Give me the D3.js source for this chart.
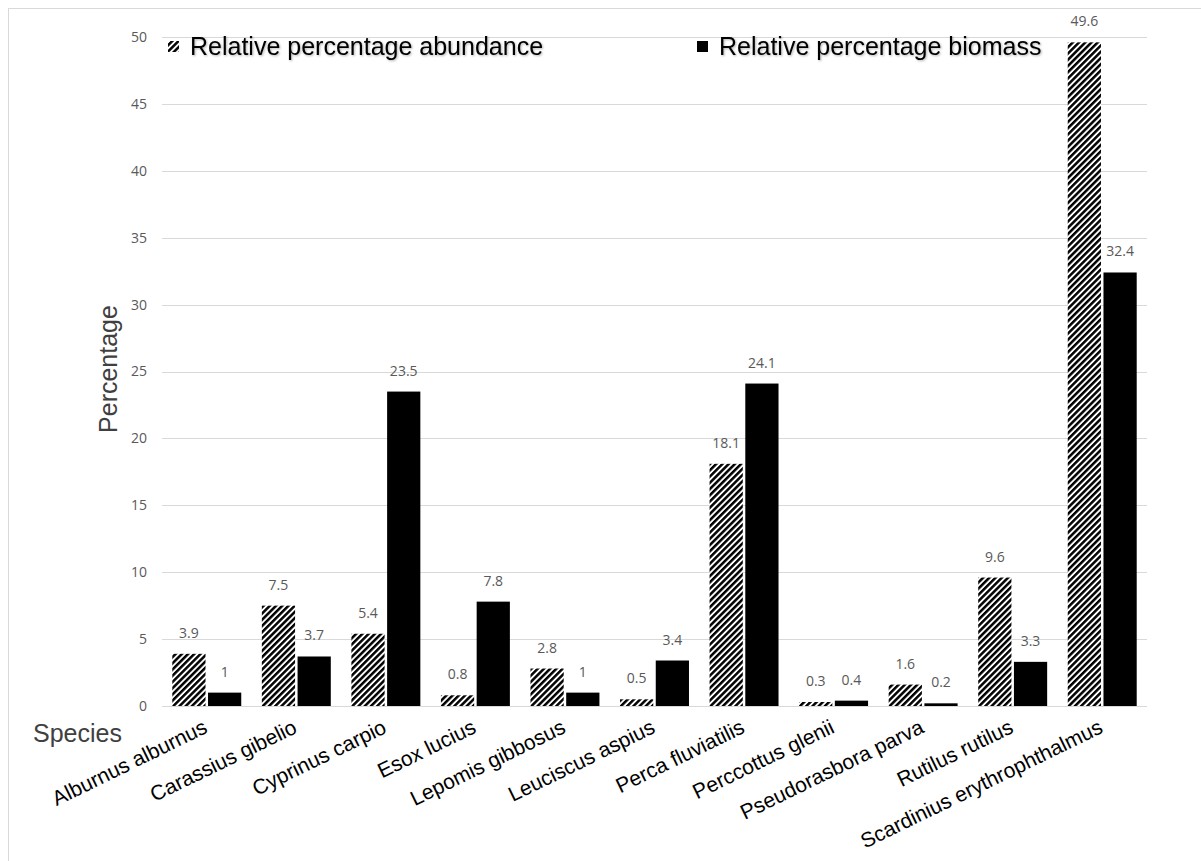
<!DOCTYPE html>
<html>
<head>
<meta charset="utf-8">
<script src="https://cdn.jsdelivr.net/npm/d3@7"></script>
<style>
  html, body { margin: 0; padding: 0; background: #fff; }
  svg { display: block; }
</style>
</head>
<body>
<svg id="chart" width="1201" height="861"></svg>
<script>
// Données
const species = ['Alburnus alburnus', 'Carassius gibelio', 'Cyprinus carpio', 'Esox lucius',
  'Lepomis gibbosus', 'Leuciscus aspius', 'Perca fluviatilis', 'Perccottus glenii',
  'Pseudorasbora parva', 'Rutilus rutilus', 'Scardinius erythrophthalmus'];
const seriesNames = ['Relative percentage abundance', 'Relative percentage biomass'];
const abundance = [3.9, 7.5, 5.4, 0.8, 2.8, 0.5, 18.1, 0.3, 1.6, 9.6, 49.6];
const biomass   = [1, 3.7, 23.5, 7.8, 1, 3.4, 24.1, 0.4, 0.2, 3.3, 32.4];
const yTicks = [0, 5, 10, 15, 20, 25, 30, 35, 40, 45, 50];

const rows = species.map((s, i) => ({ name: s, values: [abundance[i], biomass[i]] }));

const svg = d3.select('#chart');
const plot = { left: 162, right: 1147, top: 37, bottom: 706 };

// cadre du graphique
svg.append('rect')
  .attr('x', 8.5).attr('y', 8.5)
  .attr('width', 1400).attr('height', 1000)
  .attr('fill', 'none').attr('stroke', '#d9d9d9').attr('stroke-width', 1);

const defs = svg.append('defs');
const pat = defs.append('pattern')
  .attr('id', 'hatch')
  .attr('patternUnits', 'userSpaceOnUse')
  .attr('width', 4.4).attr('height', 4.4)
  .attr('patternTransform', 'rotate(45)');
pat.append('rect').attr('width', 4.4).attr('height', 4.4).attr('fill', '#fff');
pat.append('rect').attr('width', 2.5).attr('height', 4.4).attr('fill', '#000');

const shadow = defs.append('filter').attr('id', 'tshadow')
  .attr('x', '-5%').attr('y', '-20%').attr('width', '110%').attr('height', '150%');
shadow.append('feDropShadow')
  .attr('dx', 1).attr('dy', 1).attr('stdDeviation', 1.2)
  .attr('flood-color', '#000').attr('flood-opacity', 0.3);

const fills = ['url(#hatch)', '#000'];

const x0 = d3.scaleBand().domain(species).range([plot.left, plot.right]).padding(0);
const x1 = d3.scaleBand().domain([0, 1])
  .range([x0.bandwidth() * 0.115, x0.bandwidth() * 0.885])
  .paddingInner(0.07);
const y = d3.scaleLinear().domain([0, 50]).range([plot.bottom, plot.top]);

// grille
svg.append('g')
  .selectAll('line')
  .data(yTicks)
  .join('line')
  .attr('x1', plot.left).attr('x2', plot.right)
  .attr('y1', d => Math.round(y(d)) + 0.5).attr('y2', d => Math.round(y(d)) + 0.5)
  .attr('stroke', '#d9d9d9').attr('stroke-width', 1);

// axe Y
const yAxis = svg.append('g')
  .attr('transform', `translate(${plot.left},0)`)
  .call(d3.axisLeft(y).tickValues(yTicks).tickSize(0).tickPadding(15));
yAxis.select('.domain').remove();
yAxis.selectAll('text')
  .attr('font-family', '"Open Sans", sans-serif')
  .attr('font-size', 14)
  .attr('fill', '#595959');

// barres
const groups = svg.append('g')
  .selectAll('g')
  .data(rows)
  .join('g')
  .attr('transform', d => `translate(${x0(d.name)},0)`);

groups.selectAll('rect')
  .data(d => d.values.map((v, k) => ({ k, v })))
  .join('rect')
  .attr('x', d => x1(d.k))
  .attr('width', x1.bandwidth())
  .attr('y', d => y(d.v))
  .attr('height', d => y(0) - y(d.v))
  .attr('fill', d => fills[d.k]);

groups.selectAll('text')
  .data(d => d.values.map((v, k) => ({ k, v })))
  .join('text')
  .attr('x', d => x1(d.k) + x1.bandwidth() / 2)
  .attr('y', d => y(d.v) - 16)
  .attr('text-anchor', 'middle')
  .attr('font-family', '"Open Sans", sans-serif')
  .attr('font-size', 14)
  .attr('fill', '#595959')
  .text(d => d.v);

// ligne de base
svg.append('line')
  .attr('x1', plot.left).attr('x2', plot.right)
  .attr('y1', plot.bottom + 0.5).attr('y2', plot.bottom + 0.5)
  .attr('stroke', '#d9d9d9');

// étiquettes des espèces
svg.append('g')
  .selectAll('text')
  .data(species)
  .join('text')
  .attr('transform', d => `translate(${x0(d) + x0.bandwidth() / 2 + 2},732) rotate(-26)`)
  .attr('text-anchor', 'end')
  .attr('font-family', '"Liberation Sans", Arial, sans-serif')
  .attr('font-size', 21)
  .attr('fill', '#000')
  .text(d => d);

// titres des axes
svg.append('text')
  .attr('transform', 'translate(117,369) rotate(-90)')
  .attr('text-anchor', 'middle')
  .attr('font-family', '"Liberation Sans", Arial, sans-serif')
  .attr('font-size', 25)
  .attr('fill', '#404040')
  .text('Percentage');

svg.append('text')
  .attr('x', 33).attr('y', 742)
  .attr('font-family', '"Liberation Sans", Arial, sans-serif')
  .attr('font-size', 25)
  .attr('fill', '#404040')
  .text('Species');

// légende
const legendX = [168, 697];
const legend = svg.append('g')
  .selectAll('g')
  .data(seriesNames)
  .join('g')
  .attr('transform', (d, i) => `translate(${legendX[i]},0)`);
legend.append('rect')
  .attr('x', 0).attr('y', 41).attr('width', 11).attr('height', 11)
  .attr('fill', (d, i) => fills[i]);
legend.append('text')
  .attr('x', 22).attr('y', 55)
  .attr('font-family', '"Liberation Sans", Arial, sans-serif')
  .attr('font-size', 25)
  .attr('fill', '#000')
  .attr('filter', 'url(#tshadow)')
  .text(d => d);
</script>
</body>
</html>
